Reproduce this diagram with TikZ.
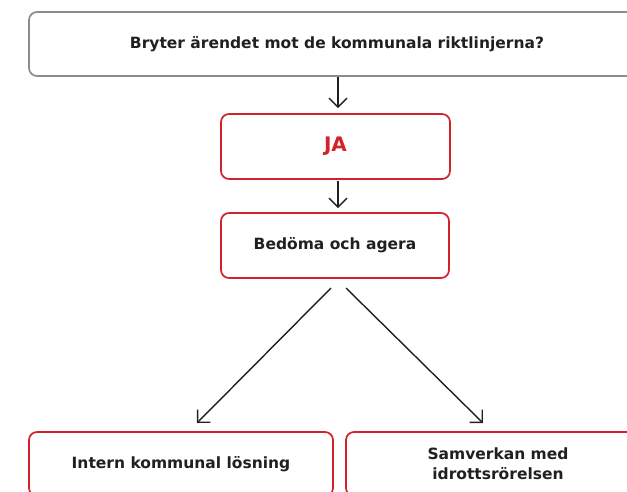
\documentclass[tikz,border=0pt]{standalone}
\usepackage{fontspec}
\setmainfont{DejaVu Sans}
\usetikzlibrary{arrows.meta}
\definecolor{boxred}{HTML}{D2232A}
\definecolor{boxgray}{HTML}{8C8C8C}
\definecolor{ink}{HTML}{231F20}
\tikzset{
  box/.style={draw=boxred, line width=1.7pt, rounded corners=8pt, minimum height=65pt, inner sep=0pt, fill=white,
    font=\bfseries\fontsize{15.5}{20}\selectfont, text=ink, align=center},
  graybox/.style={box, draw=boxgray},
  conn/.style={draw=ink, line width=1.4pt, -{Straight Barb[length=9pt,width=18pt]}}
}
\begin{document}
\begin{tikzpicture}[x=1pt,y=-1pt]
\useasboundingbox (0,0) rectangle (627,491);
\clip (0,0) rectangle (627,491);
\node[graybox, minimum width=616pt, minimum height=64pt] (q) at (337,44) {Bryter ärendet mot de kommunala riktlinjerna?};
\node[box, minimum width=229pt, text=boxred, font=\bfseries\fontsize{20}{24}\selectfont] (ja) at (335.5,146.5) {JA};
\node[box, minimum width=228pt] (bed) at (335,245.5) {Bedöma och agera};
\node[box, minimum width=304pt, minimum height=64pt] (int) at (181,464) {Intern kommunal lösning};
\node[box, minimum width=304pt, minimum height=64pt] (sam) at (498,464) {Samverkan med\\idrottsrörelsen};
\coordinate (a1e) at (338,108);
\coordinate (a2s) at (338,181);
\coordinate (a2e) at (338,208);
\coordinate (l1) at (331,288);
\coordinate (l2) at (197,423);
\coordinate (r1) at (346,288);
\coordinate (r2) at (483,423);
\draw[conn] (q.south -| a1e) -- (a1e);
\draw[conn] (a2s) -- (a2e);
\draw[conn] (l1) -- (l2);
\draw[conn] (r1) -- (r2);
\end{tikzpicture}
\end{document}
